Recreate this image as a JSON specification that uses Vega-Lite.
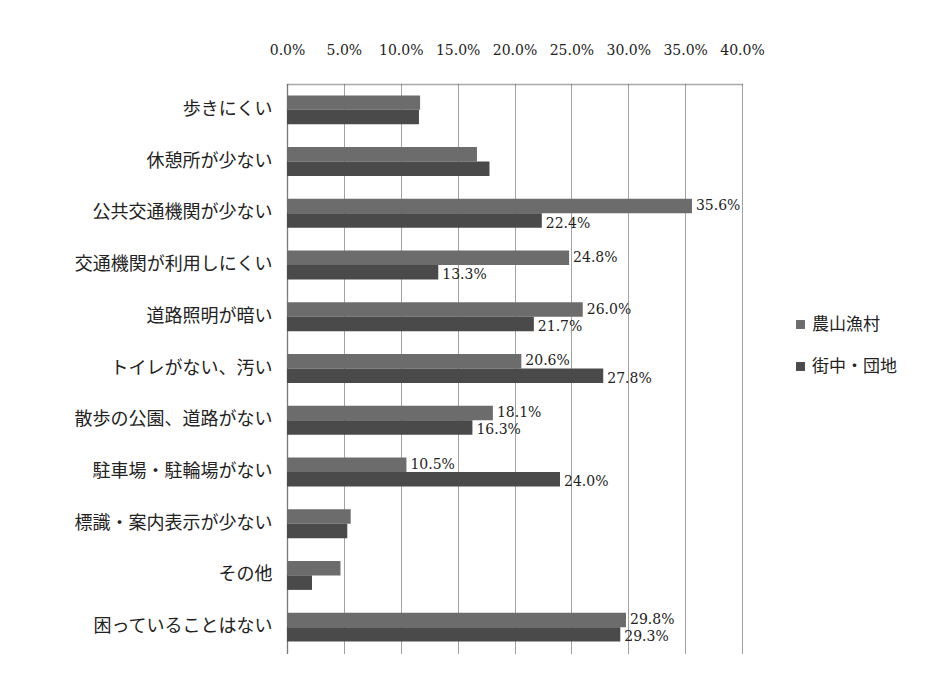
{
  "$schema": "https://vega.github.io/schema/vega-lite/v6.json",
  "width": 455,
  "height": 569,
  "autosize": {"type": "none"},
  "padding": {"left": 287, "top": 84, "right": 196, "bottom": 34},
  "background": "white",
  "data": {
    "values": [
      {"cat": "歩きにくい", "group": "農山漁村", "value": 11.7, "label": null},
      {"cat": "歩きにくい", "group": "街中・団地", "value": 11.6, "label": null},
      {"cat": "休憩所が少ない", "group": "農山漁村", "value": 16.7, "label": null},
      {"cat": "休憩所が少ない", "group": "街中・団地", "value": 17.8, "label": null},
      {"cat": "公共交通機関が少ない", "group": "農山漁村", "value": 35.6, "label": "35.6%"},
      {"cat": "公共交通機関が少ない", "group": "街中・団地", "value": 22.4, "label": "22.4%"},
      {"cat": "交通機関が利用しにくい", "group": "農山漁村", "value": 24.8, "label": "24.8%"},
      {"cat": "交通機関が利用しにくい", "group": "街中・団地", "value": 13.3, "label": "13.3%"},
      {"cat": "道路照明が暗い", "group": "農山漁村", "value": 26.0, "label": "26.0%"},
      {"cat": "道路照明が暗い", "group": "街中・団地", "value": 21.7, "label": "21.7%"},
      {"cat": "トイレがない、汚い", "group": "農山漁村", "value": 20.6, "label": "20.6%"},
      {"cat": "トイレがない、汚い", "group": "街中・団地", "value": 27.8, "label": "27.8%"},
      {"cat": "散歩の公園、道路がない", "group": "農山漁村", "value": 18.1, "label": "18.1%"},
      {"cat": "散歩の公園、道路がない", "group": "街中・団地", "value": 16.3, "label": "16.3%"},
      {"cat": "駐車場・駐輪場がない", "group": "農山漁村", "value": 10.5, "label": "10.5%"},
      {"cat": "駐車場・駐輪場がない", "group": "街中・団地", "value": 24.0, "label": "24.0%"},
      {"cat": "標識・案内表示が少ない", "group": "農山漁村", "value": 5.6, "label": null},
      {"cat": "標識・案内表示が少ない", "group": "街中・団地", "value": 5.3, "label": null},
      {"cat": "その他", "group": "農山漁村", "value": 4.7, "label": null},
      {"cat": "その他", "group": "街中・団地", "value": 2.2, "label": null},
      {"cat": "困っていることはない", "group": "農山漁村", "value": 29.8, "label": "29.8%"},
      {"cat": "困っていることはない", "group": "街中・団地", "value": 29.3, "label": "29.3%"}
    ]
  },
  "encoding": {
    "y": {
      "field": "cat",
      "type": "nominal",
      "sort": null,
      "scale": {"paddingInner": 0.44, "paddingOuter": 0.22},
      "axis": {
        "title": null,
        "ticks": false,
        "labelPadding": 15,
        "labelLimit": 300,
        "labelFont": "Noto Sans CJK JP",
        "labelFontSize": 18,
        "labelColor": "#222",
        "domain": true,
        "domainColor": "#555",
        "domainDash": [1, 1],
        "domainWidth": 1.5
      }
    },
    "yOffset": {"field": "group", "type": "nominal", "sort": ["農山漁村", "街中・団地"]},
    "x": {
      "field": "value",
      "type": "quantitative",
      "scale": {"domain": [0, 40], "nice": false},
      "axis": {
        "orient": "top",
        "title": null,
        "values": [0, 5, 10, 15, 20, 25, 30, 35, 40],
        "labelExpr": "format(datum.value / 100, '.1%')",
        "labelOverlap": false,
        "labelFlush": false,
        "labelFont": "DejaVu Serif",
        "labelFontSize": 14,
        "labelColor": "#222",
        "labelPadding": 27,
        "ticks": false,
        "grid": true,
        "gridColor": "#444",
        "gridDash": [1, 1],
        "gridWidth": 1,
        "domain": true,
        "domainColor": "#555",
        "domainDash": [1, 1],
        "domainWidth": 1.5
      }
    }
  },
  "layer": [
    {
      "mark": {"type": "bar"},
      "encoding": {
        "color": {
          "field": "group",
          "type": "nominal",
          "sort": ["農山漁村", "街中・団地"],
          "scale": {"domain": ["農山漁村", "街中・団地"], "range": ["#6c6c6c", "#4a4a4a"]},
          "legend": {
            "title": null,
            "orient": "none",
            "legendX": 505,
            "legendY": 232,
            "symbolType": "square",
            "symbolSize": 80,
            "symbolStrokeWidth": 0,
            "labelFont": "Noto Sans CJK JP",
            "labelFontSize": 17,
            "labelColor": "#222",
            "labelOffset": 3,
            "rowPadding": 24
          }
        }
      }
    },
    {
      "transform": [{"filter": "datum.label != null && datum.group == '農山漁村'"}],
      "mark": {"type": "text", "align": "left", "baseline": "middle", "dx": 4, "dy": 0, "font": "DejaVu Serif", "fontSize": 14, "color": "#222"},
      "encoding": {"text": {"field": "label"}}
    },
    {
      "transform": [{"filter": "datum.label != null && datum.group == '街中・団地'"}],
      "mark": {"type": "text", "align": "left", "baseline": "middle", "dx": 4, "dy": 3, "font": "DejaVu Serif", "fontSize": 14, "color": "#222"},
      "encoding": {"text": {"field": "label"}}
    }
  ],
  "config": {"view": {"stroke": null}}
}
